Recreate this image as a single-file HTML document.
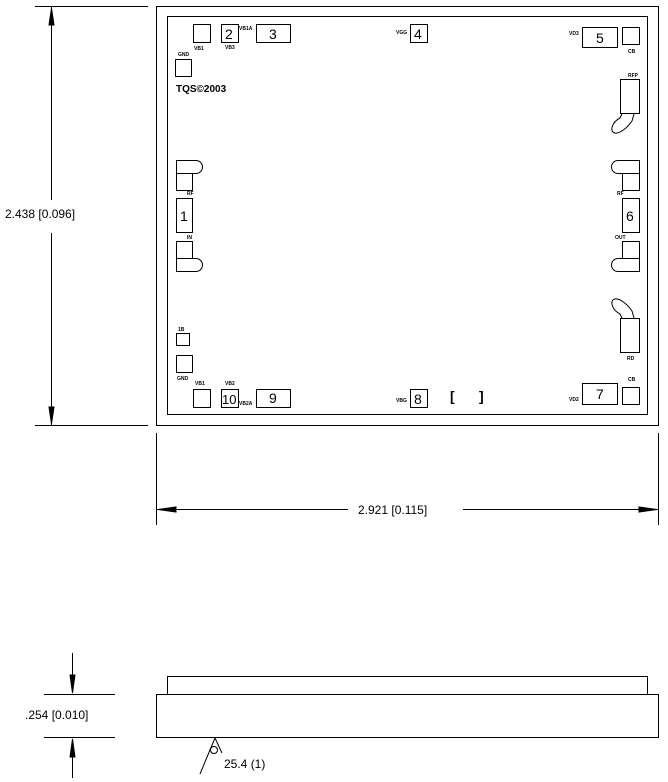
<!DOCTYPE html>
<html><head><style>
html,body{margin:0;padding:0;background:#fff;}
svg{display:block;}
text{font-family:"Liberation Sans",sans-serif;fill:#000;}
.s{font-size:5px;font-weight:bold;}
.n{font-size:14px;font-family:"Liberation Sans",sans-serif;}
</style></head><body>
<svg width="668" height="782" viewBox="0 0 668 782" xmlns="http://www.w3.org/2000/svg" fill="none" stroke="#000" stroke-width="1">
<rect x="156.5" y="6.5" width="502" height="419"/>
<rect x="167.5" y="16.5" width="480" height="398"/>
<line x1="35" y1="6.5" x2="148" y2="6.5"/>
<line x1="35" y1="425.5" x2="148" y2="425.5"/>
<line x1="51.5" y1="7" x2="51.5" y2="200"/>
<line x1="51.5" y1="233" x2="51.5" y2="425"/>
<path d="M51.5,8 L49,25 L54,25 Z" fill="#000"/>
<path d="M51.5,424 L49,407 L54,407 Z" fill="#000"/>
<text x="5" y="218" style="font-size:12px" stroke="none">2.438  [0.096]</text>
<line x1="156.5" y1="433" x2="156.5" y2="525"/>
<line x1="658.5" y1="433" x2="658.5" y2="525"/>
<line x1="157" y1="509.5" x2="348" y2="509.5"/>
<line x1="463" y1="509.5" x2="658" y2="509.5"/>
<path d="M158,509.5 L176,507 L176,512 Z" fill="#000"/>
<path d="M657,509.5 L639,507 L639,512 Z" fill="#000"/>
<text x="358" y="514" style="font-size:12px" stroke="none">2.921  [0.115]</text>
<rect x="193.5" y="24.5" width="17" height="18"/>
<rect x="221.5" y="24.5" width="17" height="18"/>
<text x="225" y="39" class="n" stroke="none">2</text>
<rect x="256.5" y="24.5" width="34" height="18"/>
<text x="269" y="39" class="n" stroke="none">3</text>
<text x="239" y="30" class="s" stroke="none">VB1A</text>
<text x="194" y="50" class="s" stroke="none">VB1</text>
<text x="225" y="49" class="s" stroke="none">VB3</text>
<rect x="410.5" y="24.5" width="17" height="18"/>
<text x="414" y="39" class="n" stroke="none">4</text>
<text x="396" y="34" class="s" stroke="none">VGG</text>
<rect x="582.5" y="27.5" width="35" height="20"/>
<text x="596" y="43" class="n" stroke="none">5</text>
<text x="569" y="35" class="s" stroke="none">VD3</text>
<rect x="622.5" y="27.5" width="17" height="17"/>
<text x="628" y="53" class="s" stroke="none">CB</text>
<text x="178" y="56" class="s" stroke="none">GND</text>
<rect x="175.5" y="59.5" width="16" height="17"/>
<text x="176" y="92" style="font-size:10px;font-weight:bold" stroke="none">TQS©2003</text>
<text x="628" y="77" class="s" stroke="none">RFP</text>
<rect x="620.5" y="79.5" width="19" height="34"/>
<path d="M622,114 L620,118 C612,122 609,132 615,133 C620,134 628,127 632,121 L634,114"/>
<path d="M176.5,160.5 L196,160.5 A6.5,6.5 0 0 1 196,173.5 L176.5,173.5 Z"/>
<rect x="176.5" y="173.5" width="16" height="17"/>
<text x="187" y="195" class="s" stroke="none">RF</text>
<rect x="176.5" y="198.5" width="16" height="34"/>
<text x="180" y="221" class="n" stroke="none">1</text>
<text x="187" y="239" class="s" stroke="none">IN</text>
<rect x="176.5" y="241.5" width="16" height="17"/>
<path d="M176.5,258.5 L196,258.5 A6.5,6.5 0 0 1 196,271.5 L176.5,271.5 Z"/>
<path d="M639.5,160.5 L618,160.5 A6.5,6.5 0 0 0 618,173.5 L639.5,173.5 Z"/>
<rect x="622.5" y="173.5" width="17" height="17"/>
<text x="617" y="195" class="s" stroke="none">RF</text>
<rect x="622.5" y="198.5" width="17" height="34"/>
<text x="626" y="221" class="n" stroke="none">6</text>
<text x="615" y="239" class="s" stroke="none">OUT</text>
<rect x="622.5" y="241.5" width="17" height="17"/>
<path d="M639.5,258.5 L618,258.5 A6.5,6.5 0 0 0 618,271.5 L639.5,271.5 Z"/>
<path d="M622,318 L620,314 C612,310 609,300 615,299 C620,298 628,305 632,311 L634,318"/>
<rect x="620.5" y="318.5" width="19" height="34"/>
<text x="627" y="360" class="s" stroke="none">RD</text>
<text x="178" y="331" class="s" stroke="none">1B</text>
<rect x="176.5" y="333.5" width="13" height="12"/>
<rect x="176.5" y="355.5" width="16" height="17"/>
<text x="177" y="380" class="s" stroke="none">GND</text>
<text x="195" y="385" class="s" stroke="none">VB1</text>
<text x="225" y="385" class="s" stroke="none">VB2</text>
<rect x="193.5" y="389.5" width="17" height="18"/>
<rect x="221.5" y="389.5" width="17" height="18"/>
<text x="222" y="404" style="font-size:13px" stroke="none">10</text>
<text x="239" y="405" class="s" stroke="none">VB2A</text>
<rect x="256.5" y="389.5" width="34" height="18"/>
<text x="269" y="403" class="n" stroke="none">9</text>
<rect x="410.5" y="389.5" width="17" height="18"/>
<text x="414" y="404" class="n" stroke="none">8</text>
<text x="396" y="402" class="s" stroke="none">VBG</text>
<text x="450" y="401" style="font-size:14px;font-weight:bold" stroke="none">[</text>
<text x="479" y="401" style="font-size:14px;font-weight:bold" stroke="none">]</text>
<rect x="582.5" y="383.5" width="35" height="21"/>
<text x="596" y="399" class="n" stroke="none">7</text>
<text x="569" y="401" class="s" stroke="none">VD2</text>
<rect x="622.5" y="387.5" width="17" height="17"/>
<text x="628" y="381" class="s" stroke="none">CB</text>
<rect x="167.5" y="676.5" width="480" height="18"/>
<rect x="156.5" y="694.5" width="502" height="43"/>
<line x1="44" y1="694.5" x2="115" y2="694.5"/>
<line x1="44" y1="737.5" x2="115" y2="737.5"/>
<line x1="72.5" y1="653" x2="72.5" y2="693"/>
<line x1="72.5" y1="739" x2="72.5" y2="778"/>
<path d="M72.5,693 L70,675 L75,675 Z" fill="#000"/>
<path d="M72.5,739 L70,757 L75,757 Z" fill="#000"/>
<text x="25" y="719" style="font-size:12px" stroke="none">.254  [0.010]</text>
<line x1="215" y1="738" x2="200" y2="774"/>
<line x1="215" y1="738" x2="222" y2="753"/>
<circle cx="214" cy="750" r="3.5"/>
<text x="224" y="768" style="font-size:12px" stroke="none">25.4  (1)</text>
</svg>
</body></html>
